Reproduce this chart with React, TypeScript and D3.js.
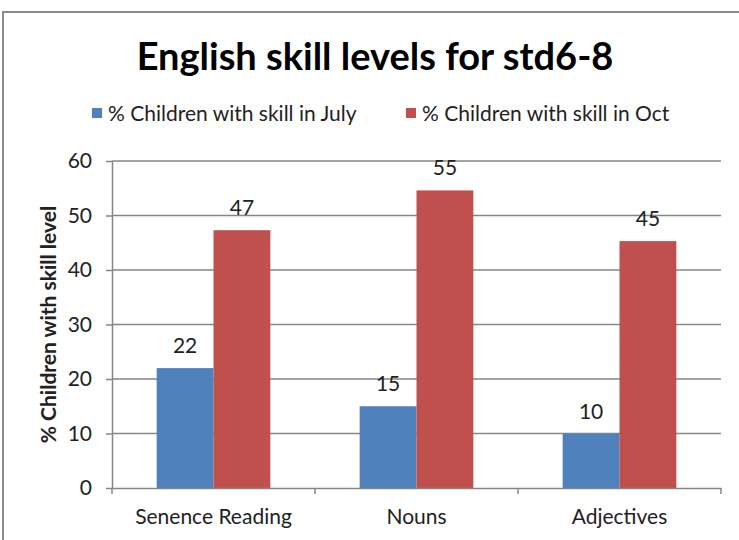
import React, { useRef, useEffect } from "react";
import * as d3 from "d3";

const categories = ["Senence Reading", "Nouns", "Adjectives"];
const julyValues = [22, 15, 10];
const octValues = [47.3, 54.6, 45.3];
const seriesNames = ["% Children with skill in July", "% Children with skill in Oct"];
const seriesColors = ["#4F81BD", "#C0504D"];
const yTicks = [0, 10, 20, 30, 40, 50, 60];

const W = 739;
const H = 540;
const FONT = "Lato, 'Open Sans', sans-serif";

export default () => {
  const ref = useRef<SVGSVGElement>(null);

  useEffect(() => {
    if (!ref.current) return;
    const svg = d3.select(ref.current);
    svg.selectAll("*").remove();

    const margin = { top: 161, right: 18, bottom: 52, left: 112 };
    const width = W - margin.left - margin.right;
    const height = H - margin.top - margin.bottom;

    // outer chart border
    svg.append("rect")
      .attr("x", 3).attr("y", 12)
      .attr("width", W + 10).attr("height", H + 10)
      .attr("fill", "#fff")
      .attr("stroke", "#8c8c8c")
      .attr("stroke-width", 2);

    svg.append("text")
      .attr("x", 375).attr("y", 70)
      .attr("text-anchor", "middle")
      .attr("font-family", FONT)
      .attr("font-weight", "bold")
      .attr("font-size", 38)
      .text("English skill levels for std6-8");

    // legend
    const legendX = [92, 406];
    seriesNames.forEach((name, i) => {
      svg.append("rect")
        .attr("x", legendX[i]).attr("y", 108)
        .attr("width", 10).attr("height", 10)
        .attr("fill", seriesColors[i]);
      svg.append("text")
        .attr("x", legendX[i] + 16).attr("y", 121)
        .attr("font-family", FONT)
        .attr("font-size", 21)
        .attr("fill", "#222")
        .text(name);
    });

    const g = svg.append("g").attr("transform", `translate(${margin.left},${margin.top})`);

    const x = d3.scaleBand().domain(categories).range([0, width]);
    const y = d3.scaleLinear().domain([0, 60]).range([height, 0]);
    const barW = x.bandwidth() * 0.28;

    // gridlines
    g.selectAll(".grid")
      .data(yTicks.slice(1))
      .enter()
      .append("line")
      .attr("x1", 0).attr("x2", width)
      .attr("y1", d => y(d)).attr("y2", d => y(d))
      .attr("stroke", "#868686")
      .attr("stroke-width", 1.5);

    const data = categories.map((c, i) => [julyValues[i], octValues[i]]);

    data.forEach((vals, ci) => {
      const cx = x(categories[ci])! + x.bandwidth() / 2;
      vals.forEach((v, si) => {
        const bx = cx - barW + si * barW;
        g.append("rect")
          .attr("x", bx).attr("y", y(v))
          .attr("width", barW).attr("height", height - y(v))
          .attr("fill", seriesColors[si]);
        g.append("text")
          .attr("x", bx + barW / 2).attr("y", y(v) - 15)
          .attr("text-anchor", "middle")
          .attr("font-family", FONT)
          .attr("font-size", 21)
          .attr("fill", "#222")
          .text(Math.round(v));
      });
    });

    // y axis
    const yAxis = g.append("g")
      .call(d3.axisLeft(y).tickValues(yTicks).tickSize(6).tickPadding(14).tickSizeOuter(0));
    yAxis.select(".domain").attr("stroke", "#868686").attr("stroke-width", 1.5);
    yAxis.selectAll(".tick line").attr("stroke", "#868686").attr("stroke-width", 1.5);
    yAxis.selectAll(".tick text")
      .attr("font-family", FONT).attr("font-size", 21).attr("fill", "#222");

    // x axis
    const xAxis = g.append("g")
      .attr("transform", `translate(0,${height})`)
      .call(d3.axisBottom(x).tickSize(0).tickPadding(21).tickSizeOuter(0));
    xAxis.select(".domain").attr("stroke", "#868686").attr("stroke-width", 1.5);
    xAxis.selectAll(".tick text")
      .attr("font-family", FONT).attr("font-size", 21).attr("fill", "#222");
    xAxis.selectAll(".boundary")
      .data(d3.range(categories.length + 1))
      .enter()
      .append("line")
      .attr("x1", d => d * x.step()).attr("x2", d => d * x.step())
      .attr("y1", 0).attr("y2", 6)
      .attr("stroke", "#868686")
      .attr("stroke-width", 1.5);

    svg.append("text")
      .attr("transform", `translate(56,${margin.top + height / 2}) rotate(-90)`)
      .attr("text-anchor", "middle")
      .attr("font-family", FONT)
      .attr("font-weight", "bold")
      .attr("font-size", 21)
      .attr("fill", "#222")
      .text("% Children with skill level");
  }, []);

  return (
    <svg
      ref={ref}
      width={W}
      height={H}
      style={{ position: "absolute", left: 0, top: 0, background: "#fff" }}
    />
  );
};
